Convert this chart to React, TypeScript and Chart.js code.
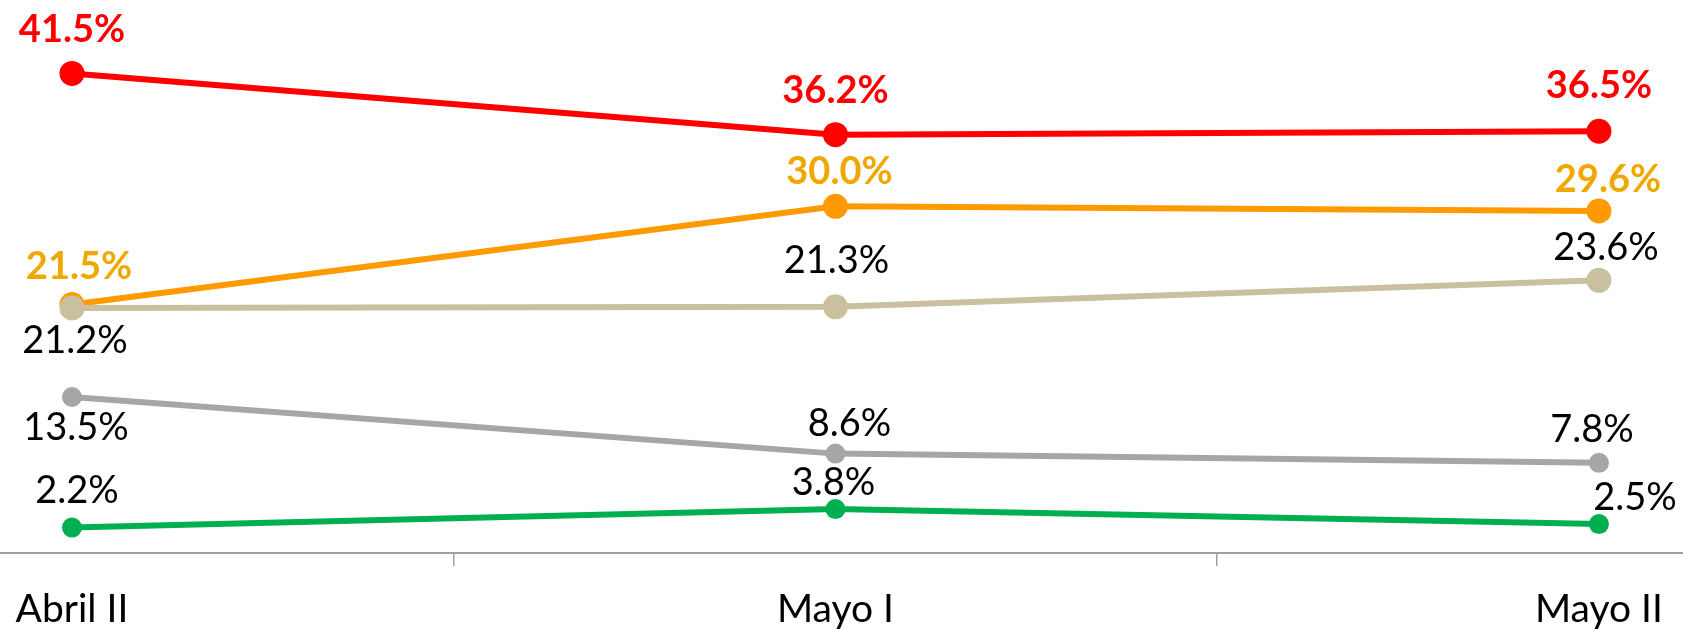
import React, { useEffect, useRef } from 'react';
import { Chart, registerables } from 'chart.js';

Chart.register(...registerables);

// ---- data ----
const categories: string[] = ['Abril II', 'Mayo I', 'Mayo II'];
const seriesRed: number[] = [41.5, 36.2, 36.5];
const seriesOrange: number[] = [21.5, 30.0, 29.6];
const seriesBeige: number[] = [21.2, 21.3, 23.6];
const seriesGray: number[] = [13.5, 8.6, 7.8];
const seriesGreen: number[] = [2.2, 3.8, 2.5];

// ---- label placement (px offsets of the value labels from their point; baseline) ----
const offsRed: [number, number][] = [[0, -31], [0, -32], [0, -33]];
const offsOrange: [number, number][] = [[7, -26], [4, -22], [9, -19]];
const offsBeige: [number, number][] = [[3, 45], [1, -34], [7, -20]];
const offsGray: [number, number][] = [[4, 43], [14, -18], [-7, -21]];
const offsGreen: [number, number][] = [[5, -25], [-2, -14], [36, -14]];

const FONT = 'Lato, "Open Sans", "DejaVu Sans", sans-serif';

function makeDataset(
  values: number[],
  color: string,
  radius: number,
  labelColor: string,
  labelBold: boolean,
  offs: [number, number][],
  order: number
) {
  return {
    data: values.map((v, i) => ({ x: i, y: v })),
    borderColor: color,
    backgroundColor: color,
    pointBackgroundColor: color,
    pointBorderColor: color,
    pointBorderWidth: 0,
    pointRadius: radius,
    pointHoverRadius: radius,
    borderWidth: 6,
    tension: 0,
    order,
    labelColor,
    labelBold,
    labelOffsets: offs,
  } as any;
}

const valueLabelPlugin = {
  id: 'valueLabels',
  afterDatasetsDraw(chart: any) {
    const ctx = chart.ctx as CanvasRenderingContext2D;
    chart.data.datasets.forEach((ds: any, di: number) => {
      const meta = chart.getDatasetMeta(di);
      meta.data.forEach((pt: any, i: number) => {
        const [dx, dy] = ds.labelOffsets[i];
        ctx.save();
        ctx.font = `${ds.labelBold ? 'bold ' : ''}38px ${FONT}`;
        ctx.fillStyle = ds.labelColor;
        ctx.textAlign = 'center';
        ctx.textBaseline = 'alphabetic';
        ctx.fillText(ds.data[i].y.toFixed(1) + '%', pt.x + dx, pt.y + dy);
        ctx.restore();
      });
    });
  },
};

const xLabelPlugin = {
  id: 'xLabels',
  afterDraw(chart: any) {
    const ctx = chart.ctx as CanvasRenderingContext2D;
    const xs = chart.scales.x;
    const base = chart.chartArea.bottom + 69;
    categories.forEach((c, i) => {
      ctx.save();
      ctx.font = `39px ${FONT}`;
      ctx.fillStyle = '#000000';
      ctx.textAlign = 'center';
      ctx.textBaseline = 'alphabetic';
      ctx.fillText(c, xs.getPixelForValue(i), base);
      ctx.restore();
    });
  },
};

export default function App() {
  const ref = useRef<HTMLCanvasElement | null>(null);

  useEffect(() => {
    if (!ref.current) return;
    const chart = new Chart(ref.current, {
      type: 'line',
      data: {
        datasets: [
          makeDataset(seriesRed, '#FF0000', 12.5, '#FF0000', true, offsRed, 5),
          makeDataset(seriesOrange, '#FF9A00', 12.5, '#F0A800', true, offsOrange, 4),
          makeDataset(seriesBeige, '#C9C0A0', 12.5, '#000000', false, offsBeige, 3),
          makeDataset(seriesGray, '#A6A6A6', 10, '#000000', false, offsGray, 2),
          makeDataset(seriesGreen, '#00B050', 10, '#000000', false, offsGreen, 1),
        ],
      },
      options: {
        animation: false,
        responsive: false,
        maintainAspectRatio: false,
        layout: { autoPadding: false, padding: { top: 33, left: 0, right: 0, bottom: 0 } },
        plugins: {
          legend: { display: false },
          tooltip: { enabled: false },
          title: { display: false },
        },
        scales: {
          x: {
            type: 'linear',
            min: -0.0943,
            max: 2.1101,
            afterBuildTicks: (scale: any) => {
              scale.ticks = categories.map((_, i) => ({ value: i }));
            },
            afterFit: (scale: any) => {
              scale.height = 77;
            },
            ticks: { display: false },
            grid: {
              display: true,
              drawOnChartArea: false,
              drawTicks: true,
              offset: true,
              tickLength: 13,
              color: '#A0A0A0',
              lineWidth: 1.5,
            },
            border: { display: true, color: '#A0A0A0', width: 2 },
          },
          y: {
            display: false,
            min: 0,
            max: 45,
          },
        },
      } as any,
      plugins: [valueLabelPlugin, xLabelPlugin],
    });
    return () => chart.destroy();
  }, []);

  return (
    <div style={{ position: 'fixed', left: 0, top: 0, width: 1683, height: 630, background: '#ffffff' }}>
      <canvas ref={ref} width={1683} height={630} style={{ display: 'block' }} />
    </div>
  );
}
